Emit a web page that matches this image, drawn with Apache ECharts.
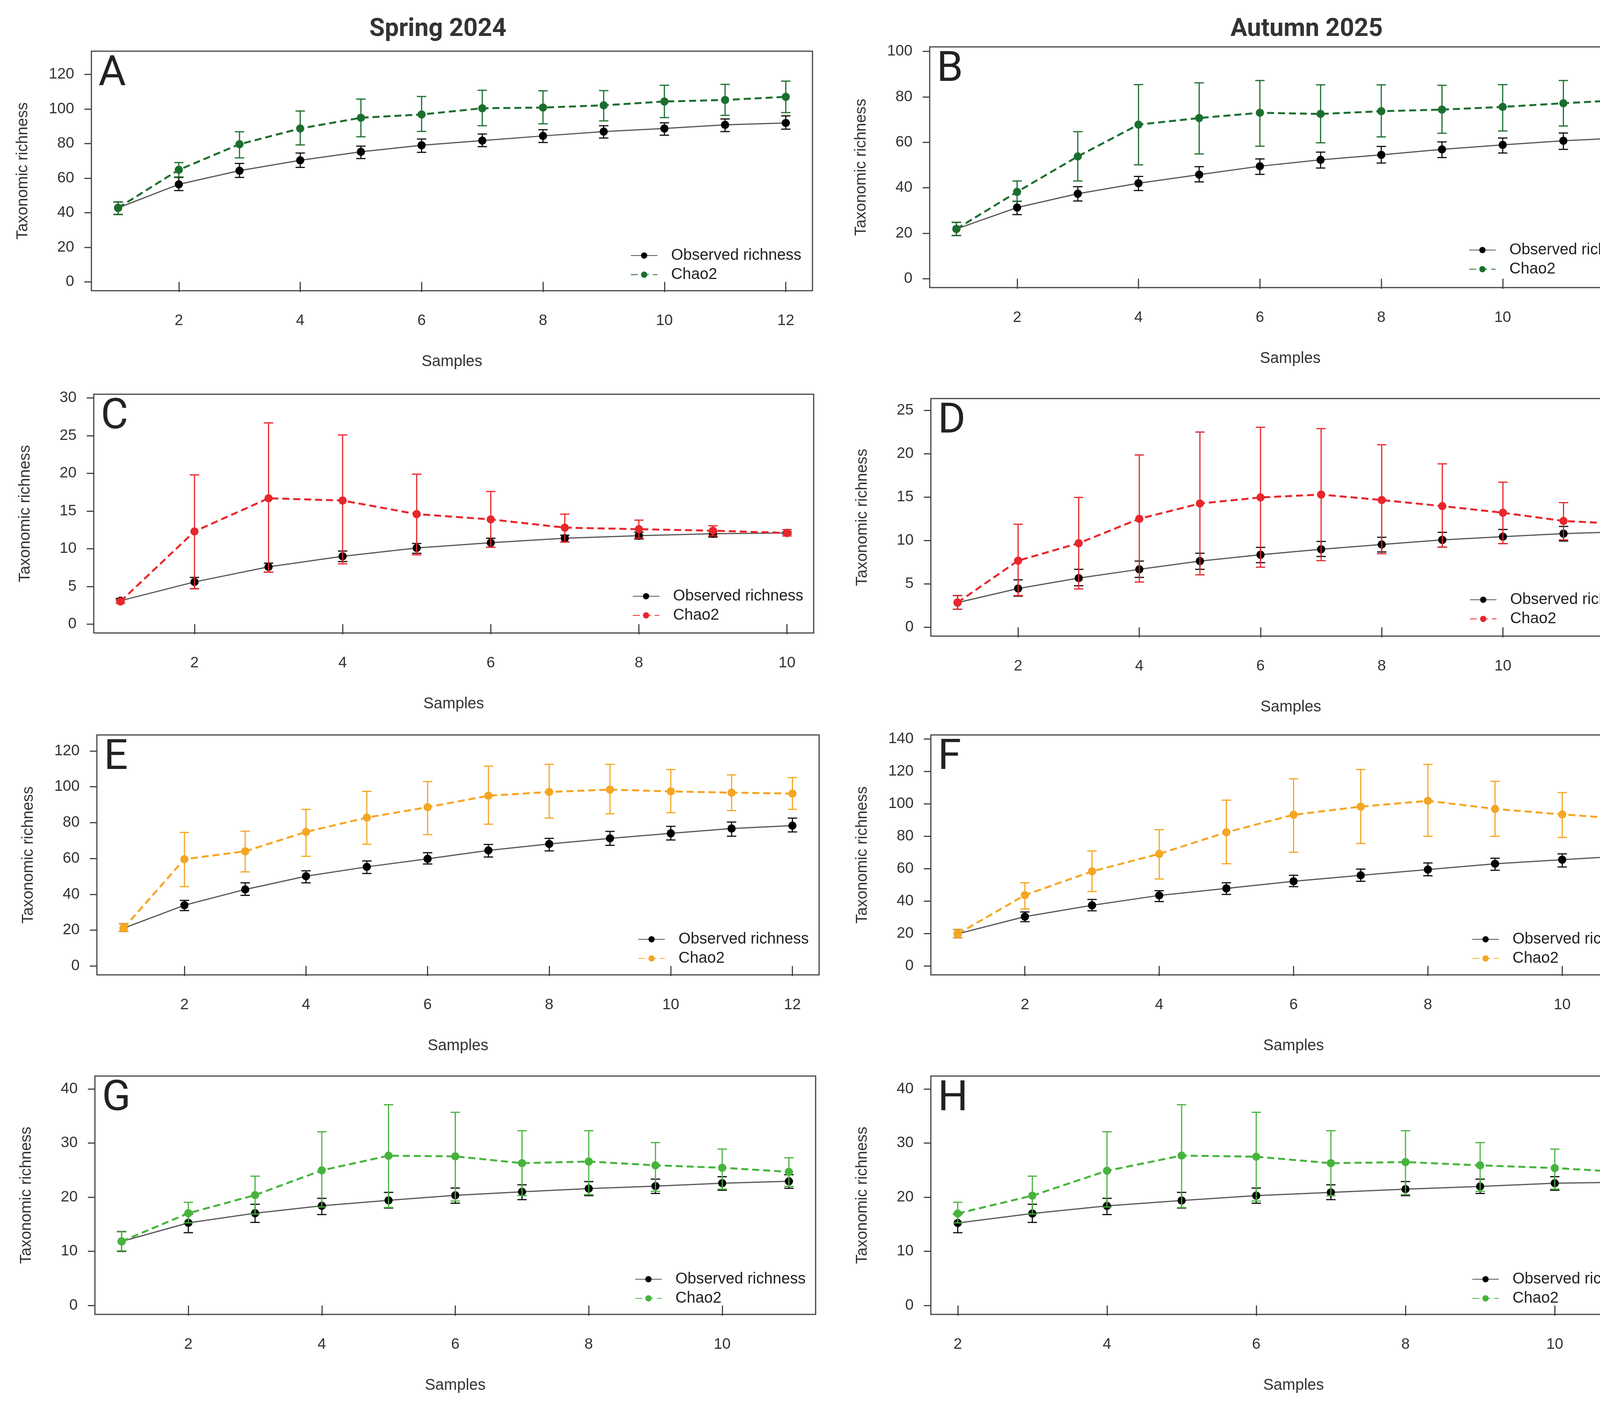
<!DOCTYPE html>
<html>
<head>
<meta charset="utf-8">
<script src="https://cdn.jsdelivr.net/npm/echarts@6/dist/echarts.min.js"></script>
<style>
  html, body { margin: 0; padding: 0; background: #fff; }
  #chart { width: 4275px; height: 3601px; }
</style>
</head>
<body>
<div id="chart"></div>
<script>
// sample numbers (x values) per panel
const samples12 = [1, 2, 3, 4, 5, 6, 7, 8, 9, 10, 11, 12];
const samples11 = [1, 2, 3, 4, 5, 6, 7, 8, 9, 10, 11];
const samples10 = [1, 2, 3, 4, 5, 6, 7, 8, 9, 10];
const samplesH = [2, 3, 4, 5, 6, 7, 8, 9, 10, 11];

// tick values
const xTicks12 = [2, 4, 6, 8, 10, 12];
const xTicks10 = [2, 4, 6, 8, 10];
const yTicks120 = [0, 20, 40, 60, 80, 100, 120];
const yTicks100 = [0, 20, 40, 60, 80, 100];
const yTicks140 = [0, 20, 40, 60, 80, 100, 120, 140];
const yTicks30 = [0, 5, 10, 15, 20, 25, 30];
const yTicks25 = [0, 5, 10, 15, 20, 25];
const yTicks40 = [0, 10, 20, 30, 40];

// A - Spring 2024
const obsA = [42.8, 56.4, 64.3, 70.3, 75.2, 79.0, 81.7, 84.4, 86.9, 88.7, 90.8, 91.9];
const obsLoA = [39.0, 52.8, 60.4, 66.2, 71.3, 74.9, 78.2, 80.6, 83.2, 84.8, 86.9, 88.3];
const obsHiA = [46.2, 60.4, 68.5, 74.5, 78.5, 82.6, 85.5, 88.0, 90.3, 92.0, 94.2, 96.0];
const chaoA = [42.8, 64.8, 79.6, 88.7, 94.9, 96.8, 100.4, 100.8, 102.1, 104.3, 105.2, 107.0];
const chaoLoA = [38.9, 60.7, 71.7, 79.2, 83.9, 87.0, 90.3, 91.4, 93.1, 95.0, 96.3, 97.9];
const chaoHiA = [46.2, 69.0, 86.8, 98.8, 105.7, 107.2, 110.8, 110.5, 110.6, 113.7, 114.2, 116.1];

// B - Autumn 2025
const obsB = [21.9, 31.3, 37.4, 42.0, 45.8, 49.5, 52.3, 54.5, 56.9, 58.9, 60.7, 62.0];
const obsLoB = [19.0, 28.2, 34.2, 38.8, 42.6, 45.9, 48.7, 50.9, 53.3, 55.3, 56.9, 58.4];
const obsHiB = [24.8, 34.1, 40.5, 45.0, 49.3, 52.7, 55.7, 58.2, 60.2, 61.9, 64.1, 65.4];
const chaoB = [21.9, 38.2, 53.8, 67.8, 70.7, 73.0, 72.5, 73.7, 74.4, 75.6, 77.2, 78.6];
const chaoLoB = [19.0, 34.0, 43.0, 50.1, 54.9, 58.3, 59.8, 62.4, 64.0, 65.0, 67.2, 68.5];
const chaoHiB = [24.8, 43.0, 64.7, 85.4, 86.2, 87.2, 85.3, 85.3, 85.1, 85.4, 87.2, 88.8];

// C
const obsC = [3.1, 5.6, 7.6, 9.0, 10.1, 10.8, 11.4, 11.74, 12.0, 12.1];
const obsLoC = [2.8, 4.7, 6.9, 8.3, 9.4, 10.2, 10.9, 11.3, 11.55, 11.95];
const obsHiC = [3.4, 6.2, 8.1, 9.7, 10.7, 11.4, 11.8, 12.2, 12.35, 12.25];
const chaoC = [3.0, 12.3, 16.7, 16.4, 14.6, 13.9, 12.8, 12.6, 12.4, 12.1];
const chaoLoC = [2.8, 4.7, 6.9, 8.0, 9.2, 10.2, 10.9, 11.4, 11.7, 11.7];
const chaoHiC = [3.2, 19.8, 26.7, 25.1, 19.9, 17.6, 14.6, 13.8, 13.05, 12.55];

// D
const obsD = [2.85, 4.47, 5.67, 6.68, 7.63, 8.36, 8.99, 9.54, 10.07, 10.44, 10.79, 11.02];
const obsLoD = [2.08, 3.59, 4.79, 5.75, 6.68, 7.45, 8.16, 8.68, 9.24, 9.64, 9.94, 10.14];
const obsHiD = [3.66, 5.47, 6.68, 7.63, 8.53, 9.21, 9.89, 10.37, 10.94, 11.27, 11.62, 11.8];
const chaoD = [2.86, 7.68, 9.69, 12.5, 14.26, 14.96, 15.29, 14.66, 13.96, 13.2, 12.25, 11.9];
const chaoLoD = [2.08, 3.66, 4.42, 5.22, 6.05, 6.93, 7.68, 8.48, 9.24, 9.64, 10.07, 10.57];
const chaoHiD = [3.66, 11.87, 14.96, 19.85, 22.49, 23.04, 22.89, 21.03, 18.83, 16.72, 14.36, 13.2];

// E
const obsE = [21.1, 33.9, 42.7, 50.1, 55.3, 59.8, 64.5, 68.1, 71.2, 74.0, 76.7, 78.3];
const obsLoE = [19.3, 30.9, 39.4, 46.4, 51.6, 56.9, 60.8, 64.2, 67.3, 70.3, 72.4, 74.8];
const obsHiE = [23.6, 36.6, 46.4, 53.1, 58.6, 63.2, 67.8, 71.2, 75.1, 77.9, 80.3, 82.5];
const chaoE = [21.1, 59.6, 64.0, 74.8, 82.8, 88.6, 95.0, 97.1, 98.4, 97.4, 96.7, 96.2];
const chaoLoE = [19.3, 44.3, 52.5, 61.2, 67.9, 73.3, 79.1, 82.5, 84.9, 85.5, 86.7, 87.4];
const chaoHiE = [23.6, 74.5, 75.2, 87.4, 97.4, 102.9, 111.5, 112.5, 112.5, 109.6, 106.6, 105.1];

// F
const obsF = [19.8, 30.4, 37.4, 43.5, 47.8, 52.2, 55.9, 59.4, 63.0, 65.5, 68.0];
const obsLoF = [17.4, 27.3, 34.0, 39.7, 44.1, 48.9, 52.2, 55.6, 59.0, 61.0, 63.7];
const obsHiF = [22.5, 33.3, 41.0, 46.4, 51.3, 55.9, 59.7, 63.5, 66.4, 69.1, 72.5];
const chaoF = [19.8, 43.7, 58.3, 69.1, 82.4, 93.2, 98.2, 101.8, 96.8, 93.4, 90.5];
const chaoLoF = [17.4, 35.1, 45.9, 53.6, 63.0, 70.1, 75.5, 79.9, 79.9, 79.2, 79.2];
const chaoHiF = [22.5, 51.3, 70.9, 84.0, 102.2, 115.4, 121.1, 124.2, 113.8, 106.9, 101.5];

// G
const obsG = [11.84, 15.27, 17.05, 18.42, 19.43, 20.36, 21.0, 21.6, 22.06, 22.6, 22.95];
const obsLoG = [10.0, 13.45, 15.35, 16.8, 18.0, 18.9, 19.56, 20.3, 20.7, 21.3, 21.66];
const obsHiG = [13.66, 16.9, 18.7, 19.8, 20.9, 21.7, 22.3, 22.9, 23.35, 23.8, 24.16];
const chaoG = [11.84, 17.05, 20.4, 24.97, 27.68, 27.56, 26.3, 26.6, 25.9, 25.45, 24.7];
const chaoLoG = [10.1, 15.27, 16.9, 18.2, 18.1, 19.3, 20.3, 20.5, 21.1, 21.5, 22.0];
const chaoHiG = [13.6, 19.07, 23.9, 32.1, 37.1, 35.7, 32.3, 32.3, 30.1, 28.9, 27.3];

// H
const obsH = [15.24, 17.0, 18.4, 19.4, 20.3, 20.9, 21.5, 22.0, 22.6, 22.8];
const obsLoH = [13.45, 15.35, 16.8, 18.0, 18.9, 19.56, 20.3, 20.7, 21.3, 21.66];
const obsHiH = [16.9, 18.7, 19.8, 20.9, 21.7, 22.3, 22.9, 23.35, 23.8, 24.16];
const chaoH = [17.0, 20.3, 24.9, 27.7, 27.5, 26.3, 26.5, 25.9, 25.4, 24.6];
const chaoLoH = [15.27, 16.9, 18.2, 18.1, 19.3, 20.3, 20.5, 21.1, 21.5, 22.0];
const chaoHiH = [19.07, 23.9, 32.1, 37.1, 35.7, 32.3, 32.3, 30.1, 28.9, 27.3];

const columnTitles = ['Spring 2024', 'Autumn 2025'];
const OBS = 'Observed richness';
const CHAO = 'Chao2';

const DARK_GREEN = '#1b6f2e';
const RED = '#e8262b';
const ORANGE = '#f5a623';
const LIGHT_GREEN = '#46b43c';

// layout per panel (pixels), axis ranges follow R's 4% padding
const panels = [
  { id: 'A', box: [234, 131, 2080, 744], xr: [0.56, 12.44], yr: [-5.1, 133.4], xt: xTicks12, yt: yTicks120,
    x: samples12, obs: obsA, obsLo: obsLoA, obsHi: obsHiA, chao: chaoA, chaoLo: chaoLoA, chaoHi: chaoHiA, color: DARK_GREEN, leg: [1609, 629] },
  { id: 'B', box: [2380, 120, 4226, 736], xr: [0.56, 12.44], yr: [-3.9, 102], xt: xTicks12, yt: yTicks100,
    x: samples12, obs: obsB, obsLo: obsLoB, obsHi: obsHiB, chao: chaoB, chaoLo: chaoLoB, chaoHi: chaoHiB, color: DARK_GREEN, leg: [3755, 615] },
  { id: 'C', box: [240, 1009, 2083, 1620], xr: [0.64, 10.36], yr: [-1.17, 30.5], xt: xTicks10, yt: yTicks30,
    x: samples10, obs: obsC, obsLo: obsLoC, obsHi: obsHiC, chao: chaoC, chaoLo: chaoLoC, chaoHi: chaoHiC, color: RED, leg: [1614, 1501] },
  { id: 'D', box: [2383, 1020, 4226, 1628], xr: [0.56, 12.44], yr: [-1.01, 26.35], xt: xTicks12, yt: yTicks25,
    x: samples12, obs: obsD, obsLo: obsLoD, obsHi: obsHiD, chao: chaoD, chaoLo: chaoLoD, chaoHi: chaoHiD, color: RED, leg: [3757, 1510] },
  { id: 'E', box: [248, 1881, 2097, 2495], xr: [0.56, 12.44], yr: [-4.95, 128.9], xt: xTicks12, yt: yTicks120,
    x: samples12, obs: obsE, obsLo: obsLoE, obsHi: obsHiE, chao: chaoE, chaoLo: chaoLoE, chaoHi: chaoHiE, color: ORANGE, leg: [1628, 2379] },
  { id: 'F', box: [2383, 1881, 4240, 2495], xr: [0.6, 11.4], yr: [-5.48, 142.4], xt: xTicks10, yt: yTicks140,
    x: samples11, obs: obsF, obsLo: obsLoF, obsHi: obsHiF, chao: chaoF, chaoLo: chaoLoF, chaoHi: chaoHiF, color: ORANGE, leg: [3763, 2379] },
  { id: 'G', box: [243, 2754, 2088, 3364], xr: [0.6, 11.4], yr: [-1.65, 42.4], xt: xTicks10, yt: yTicks40,
    x: samples11, obs: obsG, obsLo: obsLoG, obsHi: obsHiG, chao: chaoG, chaoLo: chaoLoG, chaoHi: chaoHiG, color: LIGHT_GREEN, leg: [1620, 3249] },
  { id: 'H', box: [2383, 2754, 4240, 3364], xr: [1.64, 11.36], yr: [-1.65, 42.4], xt: xTicks10, yt: yTicks40,
    x: samplesH, obs: obsH, obsLo: obsLoH, obsHi: obsHiH, chao: chaoH, chaoLo: chaoLoH, chaoHi: chaoHiH, color: LIGHT_GREEN, leg: [3763, 3249] }
];

const FONT = "'Liberation Sans', Arial, sans-serif";
const AXIS_GREY = '#444';

function errorBars(color, width, cap) {
  return function (params, api) {
    const x = api.value(0);
    const lo = api.coord([x, api.value(1)]);
    const hi = api.coord([x, api.value(2)]);
    const style = { stroke: color, lineWidth: width, fill: null };
    return {
      type: 'group',
      children: [
        { type: 'line', shape: { x1: lo[0], y1: lo[1], x2: hi[0], y2: hi[1] }, style: style },
        { type: 'line', shape: { x1: lo[0] - cap, y1: lo[1], x2: lo[0] + cap, y2: lo[1] }, style: style },
        { type: 'line', shape: { x1: hi[0] - cap, y1: hi[1], x2: hi[0] + cap, y2: hi[1] }, style: style }
      ]
    };
  };
}

const grids = [], xAxes = [], yAxes = [], series = [], legends = [], graphics = [];

panels.forEach(function (p, i) {
  const [l, t, r, b] = p.box;
  grids.push({
    left: l, top: t, width: r - l, height: b - t,
    show: true, borderColor: AXIS_GREY, borderWidth: 3, backgroundColor: 'transparent'
  });
  xAxes.push({
    type: 'value', gridIndex: i, min: p.xr[0], max: p.xr[1], position: 'bottom',
    name: 'Samples', nameLocation: 'middle', nameGap: 162,
    nameTextStyle: { fontSize: 40, fontFamily: FONT, color: '#333' },
    axisLine: { show: false },
    axisTick: { show: true, inside: false, length: 26, customValues: p.xt, lineStyle: { color: AXIS_GREY, width: 3 } },
    axisLabel: { show: true, margin: 58, fontSize: 39, fontFamily: FONT, color: '#333', customValues: p.xt },
    splitLine: { show: false }
  });
  yAxes.push({
    type: 'value', gridIndex: i, min: p.yr[0], max: p.yr[1], position: 'left',
    name: 'Taxonomic richness', nameLocation: 'middle', nameGap: 155, nameRotate: 90,
    nameTextStyle: { fontSize: 40, fontFamily: FONT, color: '#333' },
    axisLine: { show: false },
    axisTick: { show: true, inside: false, length: 18, customValues: p.yt, lineStyle: { color: AXIS_GREY, width: 3 } },
    axisLabel: { show: true, margin: 44, fontSize: 39, fontFamily: FONT, color: '#333', customValues: p.yt },
    splitLine: { show: false }
  });

  const obsName = p.id + '|' + OBS;
  const chaoName = p.id + '|' + CHAO;

  series.push({
    type: 'custom', name: p.id + '|obsErr', xAxisIndex: i, yAxisIndex: i, z: 2,
    renderItem: errorBars('#111', 3, 12),
    encode: { x: 0, y: [1, 2] },
    data: p.x.map(function (s, j) { return [s, p.obsLo[j], p.obsHi[j]]; })
  });
  series.push({
    type: 'line', name: obsName, xAxisIndex: i, yAxisIndex: i, z: 3,
    symbol: 'circle', symbolSize: 21, showSymbol: true,
    itemStyle: { color: '#000' },
    lineStyle: { color: '#555', width: 3 },
    data: p.x.map(function (s, j) { return [s, p.obs[j]]; })
  });
  series.push({
    type: 'custom', name: p.id + '|chaoErr', xAxisIndex: i, yAxisIndex: i, z: 4,
    renderItem: errorBars(p.color, 3, 12),
    encode: { x: 0, y: [1, 2] },
    data: p.x.map(function (s, j) { return [s, p.chaoLo[j], p.chaoHi[j]]; })
  });
  series.push({
    type: 'line', name: chaoName, xAxisIndex: i, yAxisIndex: i, z: 5,
    symbol: 'circle', symbolSize: 21, showSymbol: true,
    itemStyle: { color: p.color },
    lineStyle: { color: p.color, width: 5, type: [18, 10] },
    data: p.x.map(function (s, j) { return [s, p.chao[j]]; })
  });

  legends.push({
    data: [obsName, chaoName], orient: 'vertical', left: p.leg[0], top: p.leg[1],
    itemWidth: 68, itemHeight: 20, itemGap: 9, selectedMode: false,
    textStyle: { fontSize: 40, fontFamily: FONT, color: '#222', lineHeight: 40, padding: [0, 0, 0, 30] },
    formatter: function (name) { return name.split('|')[1]; }
  });

  graphics.push({
    type: 'text', x: l + 18, y: t + 6, z: 10,
    style: { text: p.id, fontSize: 108, fontFamily: "Roboto, 'Open Sans', sans-serif", fill: '#222', align: 'left', verticalAlign: 'top' }
  });
});

graphics.push({
  type: 'text', x: 1121, y: 76,
  style: { text: columnTitles[0], fontSize: 64, fontWeight: 'bold', fontFamily: "Roboto, 'Open Sans', sans-serif", fill: '#333', align: 'center', verticalAlign: 'middle' }
});
graphics.push({
  type: 'text', x: 3345, y: 76,
  style: { text: columnTitles[1], fontSize: 64, fontWeight: 'bold', fontFamily: "Roboto, 'Open Sans', sans-serif", fill: '#333', align: 'center', verticalAlign: 'middle' }
});

const chart = echarts.init(document.getElementById('chart'));
chart.setOption({
  animation: false,
  backgroundColor: '#fff',
  grid: grids,
  xAxis: xAxes,
  yAxis: yAxes,
  legend: legends,
  series: series,
  graphic: graphics
});
</script>
</body>
</html>
